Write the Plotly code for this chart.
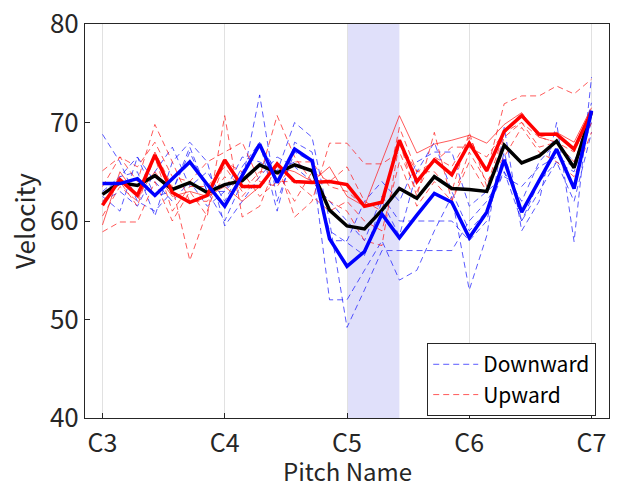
import plotly.graph_objects as go

# x positions: white keys from C3 to C7 (index 0..28)
x_idx = list(range(29))
tick_pos = [0, 7, 14, 21, 28]
tick_labels = ["C3", "C4", "C5", "C6", "C7"]
highlight = [14, 17]  # C5 .. F5

# Thick mean lines
down_mean = [63.8, 63.8, 64.3, 62.6, 64.3, 66.0, 63.7, 61.5, 64.6, 67.8, 63.9, 67.3, 66.1, 58.2, 55.4,
             56.9, 60.7, 58.3, 60.6, 62.8, 61.9, 58.3, 60.9, 66.2, 60.9, 64.1, 67.3, 63.3, 71.2]
up_mean = [61.6, 64.2, 62.6, 66.7, 62.9, 61.9, 62.6, 66.2, 63.5, 63.5, 65.8, 64.0, 63.9, 64.0, 63.7,
           61.5, 61.9, 68.2, 64.0, 66.2, 64.7, 67.9, 65.1, 69.1, 70.7, 68.8, 68.8, 67.3, 71.1]
all_mean = [62.7, 63.9, 63.6, 64.6, 63.2, 63.9, 62.9, 63.7, 64.1, 65.7, 64.9, 65.7, 65.1, 61.1, 59.5,
            59.2, 61.1, 63.3, 62.3, 64.5, 63.3, 63.2, 63.0, 67.7, 65.9, 66.6, 68.1, 65.4, 71.1]

# Thin dashed lines: Downward
down_1 = [68.8, 66.0, 62.0, 61.0, 63.0, 67.5, 63.0, 60.0, 64.0, 72.8, 62.0, 67.0, 66.0, 52.0, 52.0,
          55.0, 58.0, 54.0, 55.0, 59.0, 62.5, 53.0, 58.5, 69.5, 59.0, 62.0, 70.0, 57.9, 74.6]
down_2 = [62.5, 61.0, 66.5, 64.0, 62.0, 64.0, 61.5, 63.0, 66.5, 66.0, 65.0, 70.0, 68.5, 60.0, 49.2,
          53.0, 57.0, 57.0, 57.0, 57.0, 57.0, 60.0, 62.0, 65.0, 62.0, 66.0, 68.0, 66.0, 70.5]
down_3 = [63.0, 64.5, 65.0, 60.5, 66.0, 68.0, 66.0, 59.5, 62.0, 64.5, 66.5, 65.5, 64.0, 62.0, 60.0,
          58.0, 62.5, 60.0, 60.0, 60.0, 60.0, 58.0, 60.0, 67.0, 60.0, 63.0, 66.0, 62.0, 69.0]
down_4 = [62.0, 63.0, 61.5, 65.0, 67.5, 63.5, 65.0, 62.0, 65.5, 68.0, 61.0, 68.0, 67.0, 58.0, 58.0,
          62.0, 64.0, 62.0, 66.0, 67.0, 67.0, 61.5, 63.0, 64.5, 63.5, 65.5, 66.5, 65.5, 72.0]
down_5 = [62.7, 64.5, 66.5, 62.5, 63.0, 67.0, 63.0, 63.0, 65.0, 67.7, 65.0, 66.0, 65.0, 59.0, 57.8,
          56.5, 62.0, 58.5, 65.0, 68.0, 63.0, 59.0, 61.0, 65.0, 60.0, 64.0, 66.0, 65.0, 70.0]

# Thin dashed lines: Upward
up_1 = [58.9, 59.9, 59.9, 64.0, 60.0, 63.0, 60.5, 70.7, 60.4, 61.5, 66.0, 60.4, 62.0, 67.9, 67.9,
        65.8, 65.8, 67.0, 63.0, 66.5, 65.5, 68.5, 65.0, 71.9, 72.7, 72.7, 73.7, 72.9, 74.4]
up_2 = [65.1, 66.5, 64.0, 69.8, 66.0, 62.0, 62.0, 64.5, 62.5, 64.5, 70.7, 66.5, 64.0, 62.0, 61.0,
        58.0, 57.5, 68.0, 62.5, 69.0, 62.0, 66.0, 63.0, 68.5, 70.0, 67.5, 68.0, 65.5, 71.0]
up_3 = [62.0, 64.0, 61.5, 67.0, 63.5, 56.0, 61.0, 66.0, 65.0, 62.5, 64.0, 64.0, 62.5, 61.0, 62.0,
        60.0, 59.0, 66.0, 61.5, 64.0, 62.0, 67.0, 64.0, 66.5, 69.5, 67.0, 66.0, 64.5, 69.0]
up_4 = [60.5, 63.5, 62.0, 66.5, 61.0, 63.5, 63.5, 65.5, 63.0, 65.0, 65.0, 62.0, 65.0, 64.0, 65.5,
        62.0, 61.0, 69.5, 65.0, 65.0, 63.0, 69.0, 63.5, 69.0, 71.0, 68.5, 68.0, 66.0, 70.0]
up_5 = [63.5, 66.5, 65.5, 68.0, 64.5, 64.0, 66.0, 67.0, 68.0, 64.0, 63.5, 66.0, 66.0, 63.5, 63.0,
        61.5, 62.0, 68.0, 65.0, 66.0, 67.5, 67.5, 66.5, 69.0, 70.0, 68.5, 68.0, 67.0, 71.0]
# Thin solid red line
up_solid = [59.6, 65.0, 62.5, 65.0, 62.5, 63.0, 62.5, 63.5, 62.0, 63.5, 65.5, 65.0, 64.0, 65.5, 62.5,
            61.5, 66.1, 70.7, 66.9, 67.8, 68.2, 68.7, 67.9, 69.8, 71.0, 68.5, 69.0, 68.0, 71.5]

down_lines = [down_1, down_2, down_3, down_4, down_5]
up_lines = [up_1, up_2, up_3, up_4, up_5]

FONT = "Noto Sans CJK JP, Noto Sans, sans-serif"
fig = go.Figure()

for k, ys in enumerate(down_lines):
    fig.add_trace(go.Scatter(x=x_idx, y=ys, mode="lines", name="Downward",
                             legendgroup="down", showlegend=(k == 0),
                             line=dict(color="rgba(20,20,255,0.7)", width=1, dash="6px,4px")))
for k, ys in enumerate(up_lines):
    fig.add_trace(go.Scatter(x=x_idx, y=ys, mode="lines", name="Upward",
                             legendgroup="up", showlegend=(k == 0),
                             line=dict(color="rgba(255,20,20,0.7)", width=1, dash="6px,4px")))
fig.add_trace(go.Scatter(x=x_idx, y=up_solid, mode="lines", showlegend=False,
                         line=dict(color="rgba(255,20,20,0.7)", width=1)))

fig.add_trace(go.Scatter(x=x_idx, y=all_mean, mode="lines", showlegend=False,
                         line=dict(color="black", width=3.5)))
fig.add_trace(go.Scatter(x=x_idx, y=up_mean, mode="lines", showlegend=False,
                         line=dict(color="rgb(255,0,0)", width=3.5)))
fig.add_trace(go.Scatter(x=x_idx, y=down_mean, mode="lines", showlegend=False,
                         line=dict(color="rgb(0,0,255)", width=3.5)))

fig.add_shape(type="rect", x0=highlight[0], x1=highlight[1], y0=0, y1=1,
              xref="x", yref="y domain", fillcolor="rgb(224,224,250)",
              line=dict(width=0), layer="below")

# x-axis title placed as an annotation below the tick labels
fig.add_annotation(text="Pitch Name", xref="paper", yref="paper", x=0.5, y=-0.1345,
                   xanchor="center", yanchor="middle", showarrow=False, borderpad=0,
                   font=dict(size=24, color="#262626", family=FONT))

fig.update_layout(
    width=618, height=487,
    margin=dict(l=85, r=9, t=24, b=69),
    paper_bgcolor="white", plot_bgcolor="white",
    font=dict(family=FONT, size=22, color="#262626"),
    legend=dict(x=0.9756, y=0.19, xanchor="right", yanchor="top",
                bgcolor="white", bordercolor="#262626", borderwidth=1,
                font=dict(size=21, color="black"), tracegroupgap=0,
                itemwidth=45),
)
fig.update_xaxes(range=[-1, 29], tickmode="array", tickvals=tick_pos, ticktext=tick_labels,
                 tickfont=dict(size=25), ticklabelstandoff=3, automargin=False,
                 showgrid=True, gridcolor="rgb(225,225,225)", gridwidth=1,
                 showline=True, linecolor="#262626", linewidth=1, mirror=True,
                 ticks="inside", ticklen=5, tickcolor="#262626", zeroline=False)
fig.update_yaxes(range=[40, 80], tickvals=[40, 50, 60, 70, 80],
                 tickfont=dict(size=26), automargin=False,
                 showgrid=False, showline=True, linecolor="#262626", linewidth=1, mirror=True,
                 ticks="inside", ticklen=5, tickcolor="#262626", zeroline=False,
                 title=dict(text="Velocity", standoff=6, font=dict(size=26)))

fig.write_html("out.html")
